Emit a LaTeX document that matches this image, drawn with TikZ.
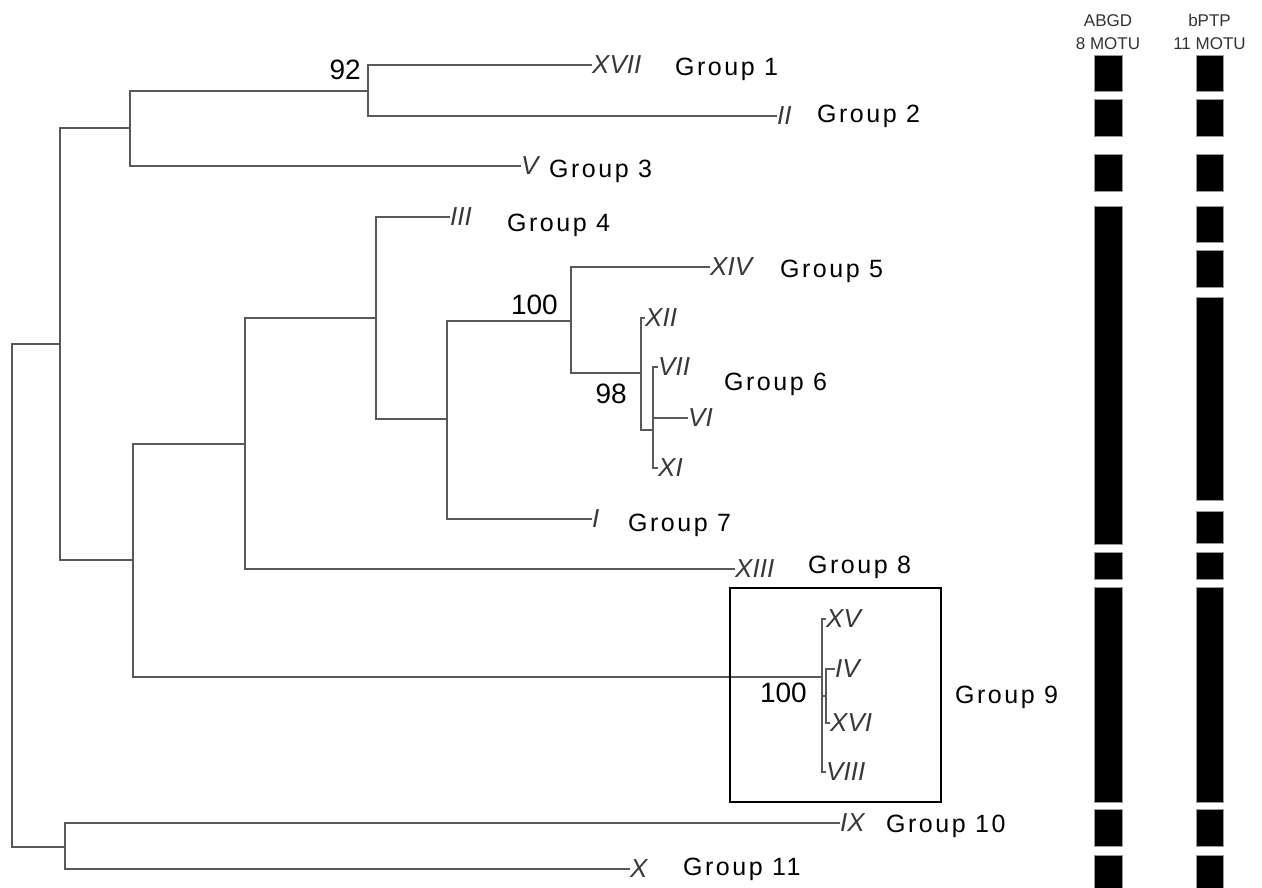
\documentclass[tikz,border=0pt]{standalone}
\usepackage{fontspec}
\setmainfont{Liberation Sans}
\newfontfamily\grpfont[LetterSpace=10]{Liberation Sans}
\begin{document}
\begin{tikzpicture}[x=1pt,y=-1pt,
  br/.style={draw=black!65, line width=1.8pt},
  leaf/.style={font=\fontsize{26}{26}\selectfont\itshape, text=black!78, inner sep=0pt, anchor=west},
  grp/.style={font=\grpfont\fontsize{25}{25}\selectfont, inner sep=0pt, anchor=base west},
  bs/.style={font=\fontsize{28}{28}\selectfont, inner sep=0pt, anchor=base east},
  hdr/.style={font=\fontsize{17}{17}\selectfont, text=black!80, inner sep=0pt, anchor=base},
  bar/.style={fill=black, draw=black!40, line width=0.8pt}]
\useasboundingbox (0,0) rectangle (1262,888);

% internal nodes
\coordinate (R) at (12,595);
\coordinate (A) at (60,344);
\coordinate (B) at (130,128);
\coordinate (C) at (368,91);
\coordinate (D) at (133,560);
\coordinate (E) at (245,444);
\coordinate (F) at (376,318);
\coordinate (G) at (447,419);
\coordinate (H) at (571,321);
\coordinate (J) at (641,373);
\coordinate (K) at (653,430);
\coordinate (N9) at (822,677);
\coordinate (M9) at (826,696);
\coordinate (N10) at (65,847);

% leaves
\node[leaf] (lXVII) at (592,65) {XVII};
\node[leaf] (lII) at (777,116) {II};
\node[leaf] (lV) at (521,166) {V};
\node[leaf] (lIII) at (450,217) {III};
\node[leaf] (lXIV) at (710,267) {XIV};
\node[leaf] (lXII) at (645,318) {XII};
\node[leaf] (lVII) at (658,367) {VII};
\node[leaf] (lVI) at (688,418) {VI};
\node[leaf] (lXI) at (658,468) {XI};
\node[leaf] (lI) at (592,519) {I};
\node[leaf] (lXIII) at (735,569) {XIII};
\node[leaf] (lXV) at (826,619) {XV};
\node[leaf] (lIV) at (835,669) {IV};
\node[leaf] (lXVI) at (830,723) {XVI};
\node[leaf] (lVIII) at (826,772) {VIII};
\node[leaf] (lIX) at (840,823) {IX};
\node[leaf] (lX) at (630,869) {X};

% branches
\draw[br] (R) |- (A);
\draw[br] (R) |- (N10);
\draw[br] (A) |- (B);
\draw[br] (A) |- (D);
\draw[br] (B) |- (C);
\draw[br] (B) |- (lV.west);
\draw[br] (C) |- (lXVII.west);
\draw[br] (C) |- (lII.west);
\draw[br] (D) |- (E);
\draw[br] (D) |- (N9);
\draw[br] (E) |- (F);
\draw[br] (E) |- (lXIII.west);
\draw[br] (F) |- (lIII.west);
\draw[br] (F) |- (G);
\draw[br] (G) |- (H);
\draw[br] (G) |- (lI.west);
\draw[br] (H) |- (lXIV.west);
\draw[br] (H) |- (J);
\draw[br] (J) |- (lXII.west);
\draw[br] (J) |- (K);
\draw[br] (K) |- (lVII.west);
\draw[br] (K) |- (lVI.west);
\draw[br] (K) |- (lXI.west);
\draw[br] (N9) |- (lXV.west);
\draw[br] (N9) |- (M9);
\draw[br] (N9) |- (lVIII.west);
\draw[br] (M9) |- (lIV.west);
\draw[br] (M9) |- (lXVI.west);
\draw[br] (N10) |- (lIX.west);
\draw[br] (N10) |- (lX.west);

% bootstrap values
\node[bs] (b92) at (361,80) {92};
\node[bs] (b100a) at (558,314) {100};
\node[bs] (b98) at (627,403) {98};
\node[bs] (b100b) at (807,702) {100};

% group labels
\node[grp] (g1) at (675,76) {Group 1};
\node[grp] (g2) at (817,123) {Group 2};
\node[grp] (g3) at (549,178) {Group 3};
\node[grp] (g4) at (507,232) {Group 4};
\node[grp] (g5) at (780,277) {Group 5};
\node[grp] (g6) at (724,390) {Group 6};
\node[grp] (g7) at (628,531) {Group 7};
\node[grp] (g8) at (808,573) {Group 8};
\node[grp] (g9) at (955,703) {Group 9};
\node[grp] (g10) at (886,832) {Group 10};
\node[grp] (g11) at (683,875) {Group 11};

% box
\draw[line width=1.8pt] (730,588) rectangle (941,802);

% headers
\node[hdr] (h1) at (1108,27) {ABGD};
\node[hdr] (h2) at (1108,50) {8 MOTU};
\node[hdr] (h3) at (1209.5,27) {bPTP};
\node[hdr] (h4) at (1209.5,50) {11 MOTU};

% bars ABGD
\foreach \a/\b in {55/91,99/136,154/191,206/544,552/579,587/802,809/846,855/889}
  \draw[bar] (1094,\a) rectangle (1122,\b);
% bars bPTP
\foreach \a/\b in {55/91,99/136,154/191,206/242,250/287,297/500,511/543,552/579,587/802,809/846,855/889}
  \draw[bar] (1196,\a) rectangle (1223,\b);
\end{tikzpicture}
\end{document}
